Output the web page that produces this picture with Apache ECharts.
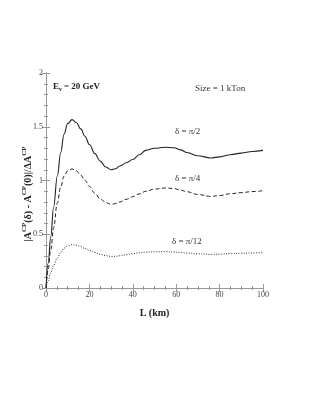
<!DOCTYPE html>
<html><head><meta charset="utf-8">
<script src="https://cdn.jsdelivr.net/npm/echarts@6/dist/echarts.min.js"></script>
<style>html,body{margin:0;padding:0;background:#fff}#c{width:312px;height:403px}</style>
</head><body><div id="c"></div>
<script>
var L = [0, 1, 2.2, 3.5, 5.2, 6.8, 8.3, 10, 12, 14, 16, 18, 20, 22.5, 25, 27.5, 30, 32, 34, 37, 40, 43, 46, 50, 55, 59, 62, 65, 70, 76, 80, 85, 90, 95, 100];
var deltaPi2 = [0, 0.23, 0.48, 0.75, 1.04, 1.26, 1.43, 1.53, 1.566, 1.54, 1.48, 1.41, 1.335, 1.25, 1.18, 1.125, 1.10, 1.11, 1.135, 1.165, 1.195, 1.24, 1.28, 1.30, 1.31, 1.305, 1.285, 1.26, 1.23, 1.21, 1.22, 1.24, 1.255, 1.27, 1.28];
var deltaPi4 = [0, 0.17, 0.356, 0.56, 0.79, 0.94, 1.04, 1.09, 1.107, 1.09, 1.05, 1.0, 0.945, 0.88, 0.83, 0.795, 0.778, 0.785, 0.80, 0.825, 0.85, 0.875, 0.90, 0.92, 0.93, 0.925, 0.91, 0.895, 0.87, 0.852, 0.86, 0.877, 0.887, 0.897, 0.905];
var deltaPi12 = [0, 0.065, 0.14, 0.21, 0.28, 0.33, 0.37, 0.393, 0.403, 0.398, 0.385, 0.368, 0.35, 0.33, 0.313, 0.3, 0.294, 0.295, 0.30, 0.31, 0.32, 0.327, 0.333, 0.337, 0.338, 0.335, 0.33, 0.325, 0.318, 0.313, 0.315, 0.32, 0.323, 0.326, 0.328];
var xTicks = [0, 20, 40, 60, 80, 100];
var yTicks = [0, 0.5, 1, 1.5, 2];

function pairs(v){ return L.map(function(x,i){ return [x, v[i]]; }); }
var serif = 'Liberation Serif';
var axisCol = '#999';
var chart = echarts.init(document.getElementById('c'));
function baseAxis(extra){
  return Object.assign({
    axisLine:{show:true, lineStyle:{color:axisCol, width:1}},
    axisTick:{show:true, inside:true, length:4, lineStyle:{color:axisCol}},
    splitLine:{show:false},
    axisLabel:{show:false}
  }, extra);
}
chart.setOption({
  animation:false,
  grid:{left:46, right:49, top:73, bottom:115, containLabel:false},
  xAxis:[
    baseAxis({type:'value', min:0, max:100, interval:20, minorTick:{show:true, splitNumber:4, length:2, lineStyle:{color:axisCol}},
      axisLabel:{show:true, fontFamily:serif, fontSize:8, color:'#444', margin:3,
        formatter:function(v){ return xTicks.indexOf(v)>=0 ? String(v) : ''; }},
      name:'L (km)', nameLocation:'middle', nameGap:20,
      nameTextStyle:{fontFamily:serif, fontWeight:'bold', fontSize:10, color:'#222'}}),
    baseAxis({type:'value', position:'top', min:0, max:100, interval:20, minorTick:{show:true, splitNumber:4, length:2, lineStyle:{color:axisCol}}})
  ],
  yAxis:[
    baseAxis({type:'value', min:0, max:2, interval:0.5, minorTick:{show:true, splitNumber:5, length:2, lineStyle:{color:axisCol}},
      axisLabel:{show:true, fontFamily:serif, fontSize:8, color:'#444', margin:3,
        formatter:function(v){ return yTicks.indexOf(v)>=0 ? String(v) : ''; }}}),
    baseAxis({type:'value', position:'right', min:0, max:2, interval:0.5, minorTick:{show:true, splitNumber:5, length:2, lineStyle:{color:axisCol}}})
  ],
  series:[
    {type:'line', data:pairs(deltaPi2), smooth:0.4, smoothMonotone:'x', showSymbol:false, lineStyle:{color:'#222', width:1.1, type:'solid'}},
    {type:'line', data:pairs(deltaPi4), smooth:0.4, smoothMonotone:'x', showSymbol:false, lineStyle:{color:'#222', width:1, type:[4,2.5]}},
    {type:'line', data:pairs(deltaPi12), smooth:0.4, smoothMonotone:'x', showSymbol:false, lineStyle:{color:'#333', width:1, type:[1,1.5]}}
  ],
  graphic:[
    {type:'text', x:27, y:194, rotation:Math.PI/2, style:{align:'center', verticalAlign:'middle',
      rich:{t:{fontFamily:serif, fontWeight:'bold', fontSize:10, fill:'#222', lineHeight:12, verticalAlign:'bottom'},
            s:{fontFamily:serif, fontWeight:'bold', fontSize:7, fill:'#222', lineHeight:12, verticalAlign:'top', padding:[0,0,4,0]}},
      text:'{t||A}{s|CP}{t|(δ) - A}{s|CP}{t|(0)|/ΔA}{s|CP}'}},
    {type:'text', left:53, top:82, style:{rich:{b:{fontFamily:serif, fontWeight:'bold', fontSize:9, fill:'#222'}, sb:{fontFamily:serif, fontWeight:'bold', fontSize:6, fill:'#222', padding:[5,0,0,0]}},
      text:'{b|E}{sb|ν}{b| = 20 GeV}'}},
    {type:'text', left:195, top:84, style:{text:'Size = 1 kTon', fontFamily:serif, fontSize:9, fill:'#333'}},
    {type:'text', left:175, top:127, style:{text:'δ = π/2', fontFamily:serif, fontSize:9, fill:'#333'}},
    {type:'text', left:175, top:174, style:{text:'δ = π/4', fontFamily:serif, fontSize:9, fill:'#333'}},
    {type:'text', left:172, top:237, style:{text:'δ = π/12', fontFamily:serif, fontSize:9, fill:'#333'}}
  ]
});
</script></body></html>
